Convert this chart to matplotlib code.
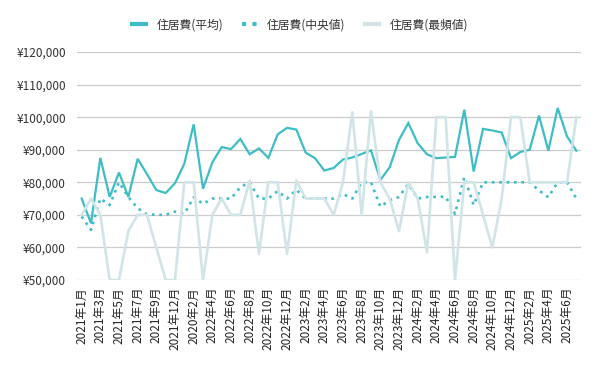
import matplotlib
matplotlib.use("Agg")
import matplotlib.pyplot as plt
from matplotlib.ticker import FuncFormatter, MultipleLocator
from matplotlib.lines import Line2D

plt.rcParams['font.family'] = ['Noto Sans CJK JP', 'DejaVu Sans']

categories = [
    "2021年1月", "2021年2月", "2021年3月", "2021年4月", "2021年5月", "2021年6月",
    "2021年7月", "2021年8月", "2021年9月", "2021年10月", "2021年12月", "2022年1月",
    "2020年2月", "2022年3月", "2022年4月", "2022年5月", "2022年6月", "2022年7月",
    "2022年8月", "2022年9月", "2022年10月", "2022年11月", "2022年12月", "2023年1月",
    "2023年2月", "2023年3月", "2023年4月", "2023年5月", "2023年6月", "2023年7月",
    "2023年8月", "2023年9月", "2023年10月", "2023年11月", "2023年12月", "2024年1月",
    "2024年2月", "2024年3月", "2024年4月", "2024年5月", "2024年6月", "2024年7月",
    "2024年8月", "2024年9月", "2024年10月", "2024年11月", "2024年12月", "2025年1月",
    "2025年2月", "2025年3月", "2025年4月", "2025年5月", "2025年6月", "2025年7月",
]

mean_vals = [
    75000, 67400, 87500, 75500, 83000, 75500, 87200, 82500, 77600, 76700,
    79700, 85700, 97800, 78000, 86100, 90800, 90200, 93300, 88600, 90400,
    87500, 94700, 96700, 96200, 89100, 87400, 83600, 84400, 87000, 87600,
    88700, 89800, 80700, 84600, 93000, 98200, 92000, 88600, 87400, 87600,
    87800, 102300, 83300, 96400, 95900, 95300, 87400, 89300, 90000, 100500,
    89700, 102800, 94100, 89700,
]

median_vals = [
    69500, 65400, 75000, 73000, 80000, 75500, 72000, 70200, 70000, 70000,
    71000, 70300, 75400, 73400, 75000, 75000, 75000, 78500, 80000, 75000,
    75000, 77300, 75000, 77700, 75000, 75000, 75000, 75000, 76400, 75000,
    80000, 80000, 72500, 74500, 75500, 79500, 75000, 75500, 75500, 75600,
    70300, 81600, 73000, 80000, 80000, 80000, 80000, 80000, 80000, 77500,
    75400, 80000, 80000, 75000,
]

mode_vals = [
    70000, 75000, 70000, 50000, 50000, 65000, 70000, 70000, 60000, 50000,
    50000, 80000, 80000, 50000, 70000, 75000, 70000, 70000, 80500, 58000,
    80000, 80000, 58000, 80500, 75000, 75000, 75000, 70000, 80000, 101500,
    70000, 101800, 80000, 75000, 65000, 80000, 75000, 58500, 100000, 100000,
    50000, 80000, 80000, 70000, 60000, 75000, 100000, 100000, 80000, 80000,
    80000, 80000, 80000, 100000,
]

series_names = ["住居費(平均)", "住居費(中央値)", "住居費(最頻値)"]

teal = "#3dbdc6"
gray = "#d1e4e7"

fig = plt.figure(figsize=(6.0, 3.71), dpi=100)
ax = fig.add_axes([77 / 600, 1 - 280 / 371, (581 - 77) / 600, (280 - 52) / 371])

x = list(range(len(categories)))
ax.plot(x, mean_vals, color=teal, lw=1.6, solid_joinstyle='miter', zorder=3)
ax.plot(x, median_vals, color=teal, lw=1.9, linestyle=(0, (1.0, 1.8)),
        dash_capstyle='butt', zorder=3)
ax.plot(x, mode_vals, color=gray, lw=1.9, solid_joinstyle='round', zorder=3)

ax.set_xlim(-0.5, len(categories) - 0.5)
ax.set_ylim(50000, 120000)
ax.yaxis.set_major_locator(MultipleLocator(10000))
ax.yaxis.set_major_formatter(FuncFormatter(lambda v, p: "¥{:,}".format(int(v))))
ax.grid(axis='y', color='#cccccc', lw=0.9, zorder=0)
for s in ax.spines.values():
    s.set_visible(False)

ax.set_xticks(x[::2])
ax.set_xticklabels(categories[::2], rotation=90, fontsize=8.5, color='#222222')
ax.tick_params(axis='x', length=0, pad=5)
ax.tick_params(axis='y', length=0, pad=8, labelsize=8.5, labelcolor='#333333')

handles = [
    Line2D([], [], color=teal, lw=3),
    Line2D([], [], color=teal, lw=3, linestyle=(0, (1, 1.5)), dash_capstyle='butt'),
    Line2D([], [], color=gray, lw=3),
]
fig.legend(handles, series_names, loc='center', bbox_to_anchor=(0.5, 1 - 25 / 371),
           ncol=3, frameon=False, fontsize=8.5, handlelength=1.2, handletextpad=0.9,
           columnspacing=1.6, labelcolor='#333333')

fig.savefig("out.png", dpi=100)
